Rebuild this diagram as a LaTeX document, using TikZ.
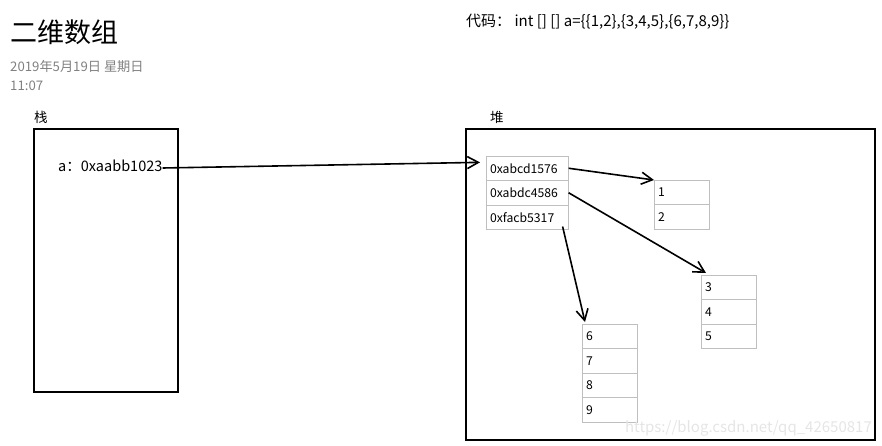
\documentclass[tikz,border=0pt]{standalone}
\usepackage{fontspec}
\setmainfont{Noto Sans CJK SC}
\usetikzlibrary{arrows.meta, positioning}
\tikzset{
  frame/.style={draw, line width=1.8pt},
  cell/.style={draw=black!25, line width=0.9pt, outer sep=0pt, anchor=north west, inner xsep=4pt,
    minimum height=24.5pt, align=left, font=\fontsize{12.2}{14}\selectfont},
  addr/.style={cell, text width=74.6pt},
  val/.style={cell, text width=47.8pt},
  lbl/.style={inner sep=0pt, font=\fontsize{13.5}{15}\selectfont},
  arr/.style={-{Straight Barb[length=11pt, width=12pt]}, line width=1.6pt},
}
\begin{document}
\begin{tikzpicture}[x=1pt, y=-1pt, node distance=0pt]
    \useasboundingbox (0,0) rectangle (882,446);
    \node[inner sep=0pt, anchor=west, font=\fontsize{27}{30}\selectfont] (title) at (10,32) {二维数组};
    \node[inner sep=0pt, anchor=west, text=black!50, font=\fontsize{13.2}{15}\selectfont] (date) at (10,66) {2019年5月19日 星期日};
    \node[inner sep=0pt, anchor=west, text=black!50, font=\fontsize{13.2}{15}\selectfont] (time) at (10,86) {11:07};
    \node[inner sep=0pt, anchor=west, font=\fontsize{15}{17}\selectfont] (code) at (466,22) {代码： int [] [] a=\{\{1,2\},\{3,4,5\},\{6,7,8,9\}\}};
    \node[lbl, anchor=west] (stacklbl) at (34,117) {栈};
    \node[lbl, anchor=west] (heaplbl) at (490,117) {堆};
    \draw[frame] (34,129) rectangle (178,392);
    \draw[frame] (466,129) rectangle (875,440);
    \node[inner sep=0pt, anchor=west, font=\fontsize{14.5}{17}\selectfont] (a) at (58,166) {a：0xaabb1023};
    \node[addr] (r1) at (486,156) {0xabcd1576};
    \node[addr, below=of r1] (r2) {0xabdc4586};
    \node[addr, below=of r2] (r3) {0xfacb5317};
    \node[val] (c1) at (654,180) {1};
    \node[val, below=of c1] (c2) {2};
    \node[val] (c3) at (701,275) {3};
    \node[val, below=of c3] (c4) {4};
    \node[val, below=of c4] (c5) {5};
    \node[val] (c6) at (582,324) {6};
    \node[val, below=of c6] (c7) {7};
    \node[val, below=of c7] (c8) {8};
    \node[val, below=of c8] (c9) {9};
    \node[inner sep=0pt, anchor=east, text=black!10, font=\fontsize{15}{17}\selectfont] (mark) at (872,428) {https://blog.csdn.net/qq\_42650817};
    \draw[arr, shorten >=6pt] ([yshift=-2pt]a.east) -- ([yshift=6pt]r1.west);
    \draw[arr] (r1.east) -- (c1.north west);
    \draw[arr] (r2.east) -- ([xshift=5pt, yshift=2pt]c3.north west);
    \draw[arr] ([xshift=-6pt, yshift=3pt]r3.south east) -- ([xshift=3pt, yshift=2pt]c6.north west);
  \end{tikzpicture}
\end{document}
